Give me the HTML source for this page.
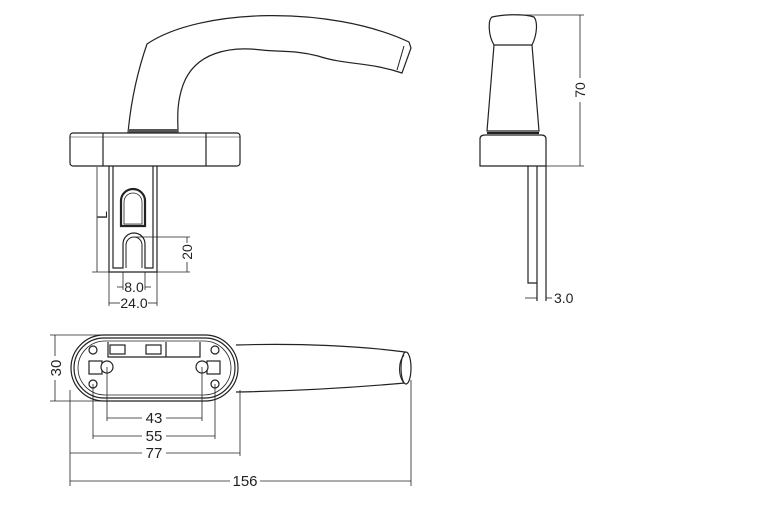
<!DOCTYPE html>
<html><head><style>html,body{margin:0;padding:0;background:#fff}svg{display:block}</style></head><body>
<svg width="780" height="523" viewBox="0 0 780 523" xmlns="http://www.w3.org/2000/svg" font-family="Liberation Sans, sans-serif" fill="none" stroke="#222" stroke-width="1.2">
<!-- front view handle -->
<path d="M128,133 C131,100 138,70 147,44 C200,8 330,5 409,42 L411,48 L402,73 C370,62 345,65 318,56 C295,50 280,52 262,50 C230,46 195,52 183,85 C176,105 178,120 178,133"/>
<path d="M404,46 L397,70" stroke-width="1"/>
<rect x="128" y="129" width="50" height="4" fill="#555" stroke="none"/>
<rect x="70" y="133" width="170" height="33" rx="3"/>
<line x1="70" y1="137" x2="240" y2="137" stroke-width="0.6"/>
<line x1="103" y1="133" x2="103" y2="166"/>
<line x1="206" y1="133" x2="206" y2="166"/>
<!-- spindle plate -->
<path d="M109,166 L109,272 L157,272 L157,166"/>
<path d="M113,166 L113,268 L123,268 L123,244 A10,10 0 0 1 145,244 L145,268 L153,268 L153,166"/>
<path d="M126,268 L126,245 A7,7 0 0 1 142,245 L142,268" stroke-width="1"/>
<path d="M121,226 L121,201 A12,12 0 0 1 145,201 L145,226 Z" stroke-width="2.2"/>
<path d="M124,224 L124,202 A9,9 0 0 1 142,202 L142,224 Z" stroke-width="0.8"/>
<!-- dims front -->
<g stroke-width="0.8">
<line x1="97" y1="167" x2="97" y2="272"/><line x1="92" y1="272" x2="109" y2="272"/>
<line x1="135" y1="237" x2="190" y2="237"/><line x1="157" y1="272" x2="190" y2="272"/>
<line x1="187" y1="237" x2="187" y2="243"/><line x1="187" y1="262" x2="187" y2="272"/>
<line x1="123" y1="272" x2="123" y2="290"/><line x1="145" y1="272" x2="145" y2="290"/>
<line x1="109" y1="272" x2="109" y2="306"/><line x1="157" y1="272" x2="157" y2="306"/>
<line x1="117" y1="287" x2="123" y2="287"/><line x1="145" y1="287" x2="151" y2="287"/>
<line x1="109" y1="303" x2="120" y2="303"/><line x1="148" y1="303" x2="157" y2="303"/>
</g>
<g fill="#222" stroke="none" font-size="14">
<text x="102" y="220" transform="rotate(-90 102 215)" text-anchor="middle">L</text>
<text x="192" y="252" transform="rotate(-90 192 252)" text-anchor="middle">20</text>
<text x="134" y="292" text-anchor="middle">8.0</text>
<text x="134" y="308" text-anchor="middle">24.0</text>
</g>
<!-- side view -->
<path d="M494,45 C488,35 488,20 492,17 C505,14 525,14 534,17 C538,22 537,35 532,45 Z"/>
<path d="M494,45 L487,131 L539,131 L532,45"/>
<path d="M480,166 L480,139 Q480,135 485,135 L541,135 Q546,135 546,139 L546,166 Z"/>
<line x1="487" y1="133" x2="539" y2="133" stroke-width="2"/>
<path d="M528,166 L528,283 L537,283 M537,166 L537,301 M546,166 L546,301"/>
<g stroke-width="0.8">
<line x1="516" y1="15" x2="584" y2="15"/><line x1="546" y1="166" x2="584" y2="166"/>
<line x1="580" y1="15" x2="580" y2="78"/><line x1="580" y1="102" x2="580" y2="166"/>
<line x1="525" y1="298" x2="537" y2="298"/><line x1="546" y1="298" x2="552" y2="298"/>
</g>
<g fill="#222" stroke="none" font-size="14">
<text x="585" y="90" transform="rotate(-90 585 90)" text-anchor="middle">70</text>
<text x="554" y="303">3.0</text>
</g>
<!-- bottom view -->
<path d="M236,345 C300,343 360,346 405,352 L405,383 C360,387 300,391 236,392"/>
<ellipse cx="406" cy="368" rx="5" ry="16" fill="#fff"/>
<path d="M404,355 C398,362 398,376 404,383" stroke-width="1"/>
<rect x="71" y="335" width="167" height="66" rx="33" fill="#fff"/>
<rect x="74" y="338" width="161" height="60" rx="30"/>
<rect x="78" y="341" width="153" height="54" rx="27" stroke-width="0.8"/>
<path d="M108,342 L108,357 L200,357 L200,342 M166,342 L166,357"/>
<rect x="110" y="345" width="15" height="9"/><rect x="146" y="345" width="15" height="9"/>
<circle cx="93" cy="350" r="4"/><circle cx="93" cy="384" r="4"/>
<circle cx="215" cy="350" r="4"/><circle cx="215" cy="384" r="4"/>
<rect x="89" y="361" width="13" height="13"/><rect x="207" y="361" width="13" height="13"/>
<circle cx="107" cy="367" r="6" fill="#fff"/><circle cx="202" cy="367" r="6" fill="#fff"/>
<g stroke-width="0.8">
<line x1="50" y1="335" x2="110" y2="335"/><line x1="50" y1="401" x2="110" y2="401"/>
<line x1="55" y1="335" x2="55" y2="356"/><line x1="55" y1="380" x2="55" y2="401"/>
<line x1="107" y1="367" x2="107" y2="421"/><line x1="202" y1="367" x2="202" y2="421"/>
<line x1="93" y1="384" x2="93" y2="439"/><line x1="215" y1="384" x2="215" y2="439"/>
<line x1="70" y1="390" x2="70" y2="486"/><line x1="240" y1="390" x2="240" y2="456"/>
<line x1="411" y1="380" x2="411" y2="486"/>
<line x1="107" y1="418" x2="142" y2="418"/><line x1="166" y1="418" x2="202" y2="418"/>
<line x1="93" y1="436" x2="142" y2="436"/><line x1="166" y1="436" x2="215" y2="436"/>
<line x1="70" y1="453" x2="142" y2="453"/><line x1="166" y1="453" x2="240" y2="453"/>
<line x1="70" y1="481" x2="230" y2="481"/><line x1="260" y1="481" x2="411" y2="481"/>
</g>
<g fill="#222" stroke="none" font-size="15">
<text x="61" y="368" transform="rotate(-90 61 368)" text-anchor="middle">30</text>
<text x="154" y="423" text-anchor="middle">43</text>
<text x="154" y="441" text-anchor="middle">55</text>
<text x="154" y="458" text-anchor="middle">77</text>
<text x="245" y="486" text-anchor="middle">156</text>
</g>
</svg>
</body></html>
